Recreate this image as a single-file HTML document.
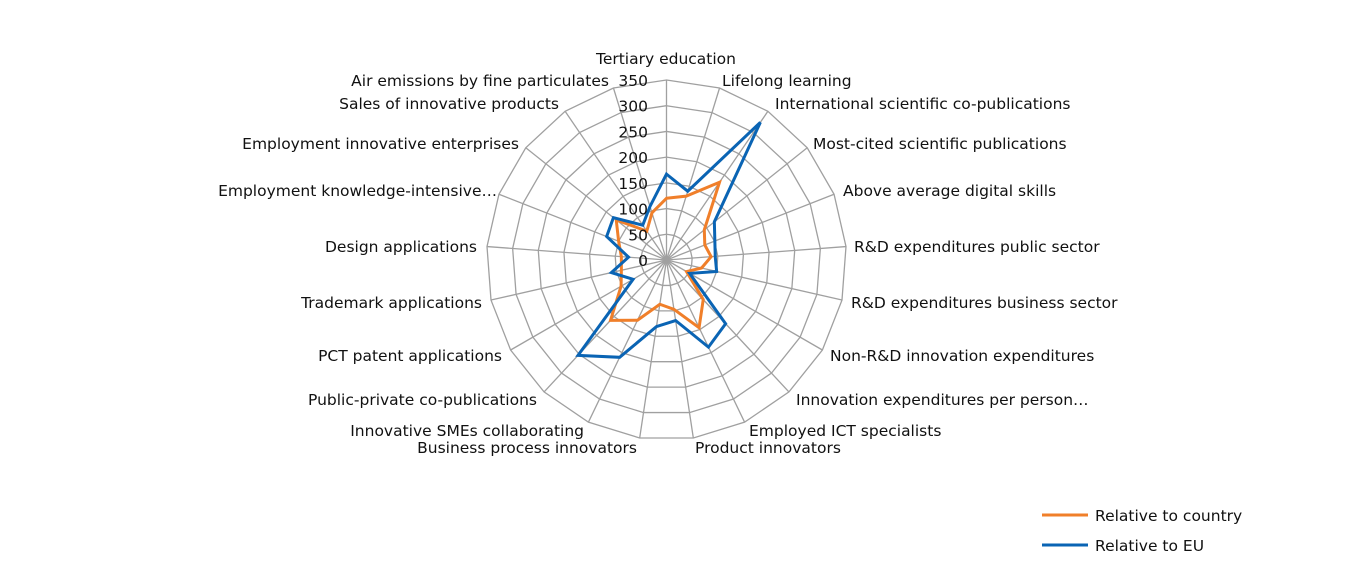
<!DOCTYPE html>
<html><head><meta charset="utf-8"><style>
body{margin:0;background:#fff;}
svg text{font-family:"DejaVu Sans","Liberation Sans",sans-serif;font-size:15.5px;fill:#111;}
</style></head><body>
<svg id="s" width="1345" height="576" xmlns="http://www.w3.org/2000/svg">
<g id="g"></g>
<g>
<text x="666" y="64" text-anchor="middle">Tertiary education</text>
<text x="722" y="86">Lifelong learning</text>
<text x="775" y="109">International scientific co-publications</text>
<text x="813" y="149">Most-cited scientific publications</text>
<text x="843" y="196">Above average digital skills</text>
<text x="854" y="252">R&amp;D expenditures public sector</text>
<text x="851" y="308">R&amp;D expenditures business sector</text>
<text x="830" y="361">Non-R&amp;D innovation expenditures</text>
<text x="796" y="405">Innovation expenditures per person…</text>
<text x="749" y="436">Employed ICT specialists</text>
<text x="695" y="453">Product innovators</text>
<text x="637" y="453" text-anchor="end">Business process innovators</text>
<text x="584" y="436" text-anchor="end">Innovative SMEs collaborating</text>
<text x="537" y="405" text-anchor="end">Public-private co-publications</text>
<text x="502" y="361" text-anchor="end">PCT patent applications</text>
<text x="482" y="308" text-anchor="end">Trademark applications</text>
<text x="477" y="252" text-anchor="end">Design applications</text>
<text x="497" y="196" text-anchor="end">Employment knowledge-intensive…</text>
<text x="519" y="149" text-anchor="end">Employment innovative enterprises</text>
<text x="559" y="109" text-anchor="end">Sales of innovative products</text>
<text x="609" y="86" text-anchor="end">Air emissions by fine particulates</text>
</g>
<line x1="1042" y1="515" x2="1088" y2="515" stroke="#f07f2a" stroke-width="3"/>
<line x1="1042" y1="545" x2="1088" y2="545" stroke="#0a64b4" stroke-width="3"/>
<text x="1095" y="521">Relative to country</text>
<text x="1095" y="551">Relative to EU</text>
</svg>
<script>
var cx=666.5,cy=260,R=180,N=21,M=350,g=document.getElementById('g'),h='';
function pt(i,v){var a=i*2*Math.PI/N;var r=v/M*R;return [cx+r*Math.sin(a),cy-r*Math.cos(a)];}
for(var k=1;k<=7;k++){var p=[];for(var i=0;i<N;i++)p.push(pt(i,k*50).join(','));h+='<polygon points="'+p.join(' ')+'" fill="none" stroke="#a0a0a0" stroke-width="1.3"/>';}
for(var i=0;i<N;i++){var q=pt(i,M);h+='<line x1="'+cx+'" y1="'+cy+'" x2="'+q[0]+'" y2="'+q[1]+'" stroke="#a0a0a0" stroke-width="1.3"/>';}
var O=[120,130,183,94,80,87,70,45,105,146,97,87,130,160,102,90,88,100,125,68,96];
var B=[167,140,324,119,101,95,100,52,169,188,119,131,210,253,75,110,74,125,132,82,109];
function poly(d,c){var p=[];for(var i=0;i<N;i++)p.push(pt(i,d[i]).join(','));return '<polygon points="'+p.join(' ')+'" fill="none" stroke="'+c+'" stroke-width="3" stroke-linejoin="miter"/>';}
h+=poly(O,'#f07f2a')+poly(B,'#0a64b4');
for(var k=0;k<=7;k++){h+='<text x="648" y="'+(cy-k*50/M*R+6)+'" text-anchor="end">'+(k*50)+'</text>';}
g.innerHTML=h;
</script>
</body></html>
